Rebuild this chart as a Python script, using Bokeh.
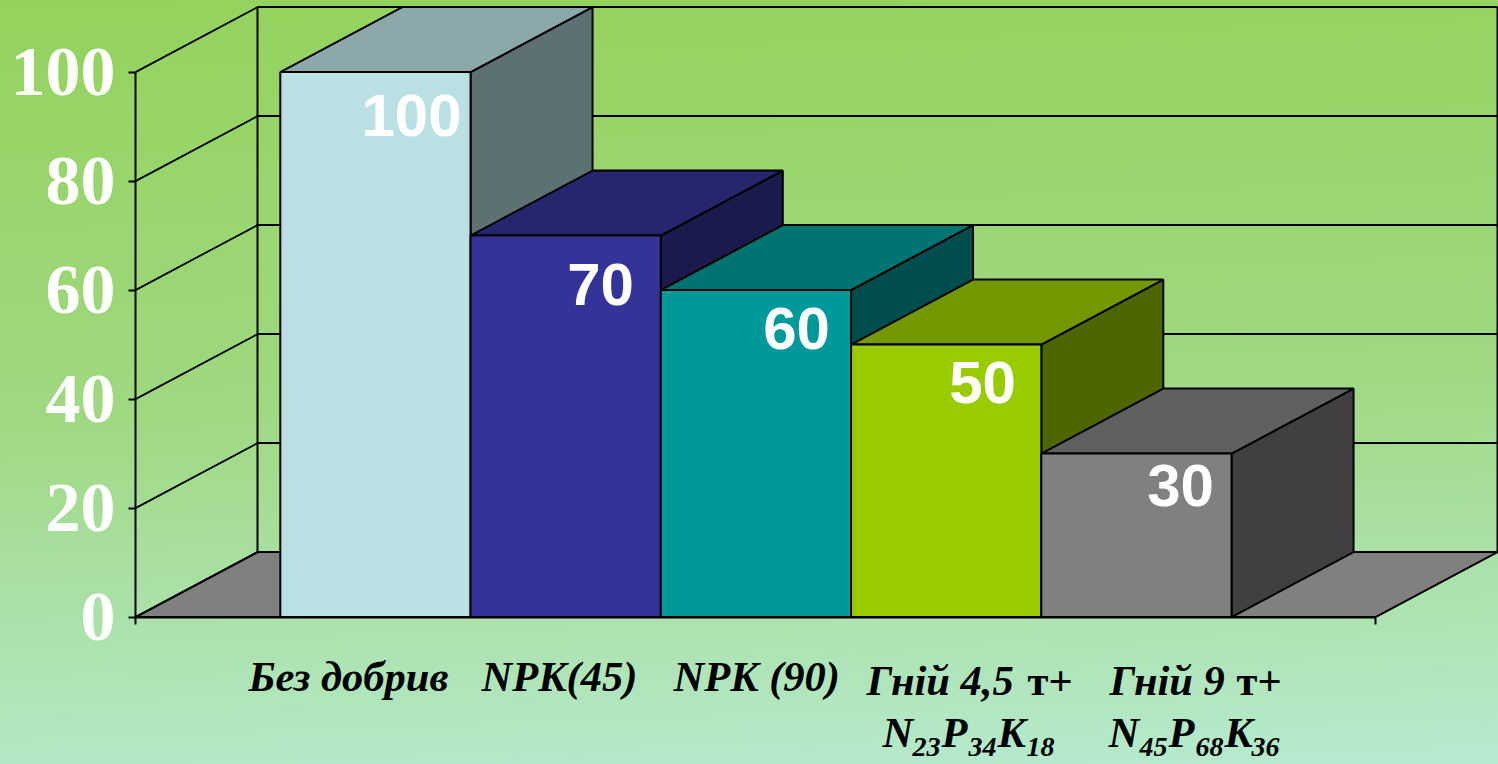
from bokeh.core.properties import value
from bokeh.embed import file_html
from bokeh.models import FixedTicker, LinearAxis, Range1d
from bokeh.plotting import figure
from bokeh.resources import INLINE

# ---- data ----
values = [100, 70, 60, 50, 30]
value_labels = ["100", "70", "60", "50", "30"]
front_colors = ["#BAE0E3", "#333399", "#009999", "#99CC00", "#808080"]
top_colors = ["#8CA8AA", "#26266F", "#007373", "#739900", "#606060"]
side_colors = ["#5D7072", "#1A1A4D", "#004D4D", "#4D6600", "#404040"]
y_ticks = [0, 20, 40, 60, 80, 100]

# ---- layout (pixels of the page) ----
W, H = 1498, 764
X0_PX, BAR_PX = 279.8, 190.25     # left edge of the first bar, width of a bar
Y0_PX, UNIT_PX = 616.6, 5.45      # baseline, pixels per value unit
AX_L_PX, AX_R_PX = 135.0, 1375.0
DX_PX, DY_PX = 122.0, 65.0        # depth of the 3-D projection
BASELINE_SHIFT = 0.36             # em: where the renderer puts an alphabetic baseline


def dx(px):
    return (px - X0_PX) / BAR_PX


def dy(py):
    return (Y0_PX - py) / UNIT_PX


depth_x = DX_PX / BAR_PX
depth_y = DY_PX / UNIT_PX
ax_l, ax_r = dx(AX_L_PX), dx(AX_R_PX)

p = figure(
    width=W, height=H, output_backend="svg", toolbar_location=None,
    x_range=Range1d(dx(0), dx(W)), y_range=Range1d(dy(H), dy(0)),
    x_axis_location=None, y_axis_location=None,
    min_border=0,
    background_fill_color=None, border_fill_color=None, outline_line_color=None,
    styles={"position": "fixed", "left": "0px", "top": "0px",
            "background": "linear-gradient(178deg, #93D35C 0%, #9FD880 50%, #B6EAD0 100%)"},
)
p.grid.visible = False

# floor
p.patch([ax_l, ax_l + depth_x, ax_r + depth_x, ax_r], [0, depth_y, depth_y, 0],
        fill_color="#808080", line_color="black", line_width=2)

# walls: gridlines on back and side wall, wall verticals
p.segment(x0=[ax_l + depth_x] * len(y_ticks), y0=[t + depth_y for t in y_ticks],
          x1=[ax_r + depth_x] * len(y_ticks), y1=[t + depth_y for t in y_ticks],
          line_color="black", line_width=2)
p.segment(x0=[ax_l] * len(y_ticks), y0=y_ticks,
          x1=[ax_l + depth_x] * len(y_ticks), y1=[t + depth_y for t in y_ticks],
          line_color="black", line_width=1.8)
p.segment(x0=[ax_l + depth_x, ax_r + depth_x], y0=[depth_y, depth_y],
          x1=[ax_l + depth_x, ax_r + depth_x], y1=[100 + depth_y, 100 + depth_y],
          line_color="black", line_width=2)

# bars
for i, v in enumerate(values):
    p.patch([i + 1, i + 1 + depth_x, i + 1 + depth_x, i + 1],
            [0, depth_y, v + depth_y, v],
            fill_color=side_colors[i], line_color="black", line_width=2)
    p.patch([i, i + depth_x, i + 1 + depth_x, i + 1],
            [v, v + depth_y, v + depth_y, v],
            fill_color=top_colors[i], line_color="black", line_width=2)
    p.quad(left=[i], right=[i + 1], bottom=[0], top=[v],
           fill_color=front_colors[i], line_color="black", line_width=2)

# axes
yax = LinearAxis(
    ticker=FixedTicker(ticks=y_ticks), bounds=(0, 100), fixed_location=ax_l,
    axis_line_color="black", axis_line_width=2,
    major_tick_line_color="black", major_tick_line_width=2,
    major_tick_out=7, major_tick_in=0, minor_tick_out=0, minor_tick_in=0,
    major_label_standoff=13,
    major_label_text_font="Liberation Serif", major_label_text_font_style="bold",
    major_label_text_font_size="70px", major_label_text_color="white",
)
p.add_layout(yax, "left")
xax = LinearAxis(
    ticker=FixedTicker(ticks=[ax_l, ax_r]), bounds=(ax_l, ax_r), fixed_location=0,
    axis_line_color="black", axis_line_width=2,
    major_tick_line_color="black", major_tick_line_width=2,
    major_tick_out=7, major_tick_in=0, minor_tick_out=0, minor_tick_in=0,
    major_label_text_color=None, major_label_text_font_size="1px",
)
p.add_layout(xax, "below")


def text(s, x_px, base_px, size, style="bold italic", color="black",
         font="Liberation Serif", align="left"):
    p.text(x=[dx(x_px)], y=[dy(base_px - BASELINE_SHIFT * size)], text=[s],
           text_font=value(font), text_font_style=style,
           text_font_size=f"{size}px", text_color=color, text_align=align,
           text_baseline="alphabetic")


# value labels
label_x = [411, 600, 796, 982, 1180]
label_base = [137, 306, 350, 404, 507]
for s, x, b in zip(value_labels, label_x, label_base):
    text(s, x, b, 60, "bold", "white", "Liberation Sans", "center")

# category labels
text("Без добрив", 248, 691, 42.5)
text("NPK(45)", 481, 691, 42.5)
text("NPK (90)", 673, 691, 42.5)
text("Гній 4,5", 866, 695, 42.5)
text("т+", 1027, 695, 42.5, "bold")
text("Гній 9", 1109, 695, 42.5)
text("т+", 1236, 695, 42.5, "bold")
for s, x, b, size in [("N", 882, 747, 42.5), ("23", 912, 757, 28), ("P", 941, 747, 42.5),
                      ("34", 968, 757, 28), ("K", 997, 747, 42.5), ("18", 1026, 757, 28),
                      ("N", 1108, 747, 42.5), ("45", 1139, 757, 28), ("P", 1168, 747, 42.5),
                      ("68", 1195, 757, 28), ("K", 1224, 747, 42.5), ("36", 1251, 757, 28)]:
    text(s, x, b, size)

open("out.html", "w").write(file_html(p, INLINE))
